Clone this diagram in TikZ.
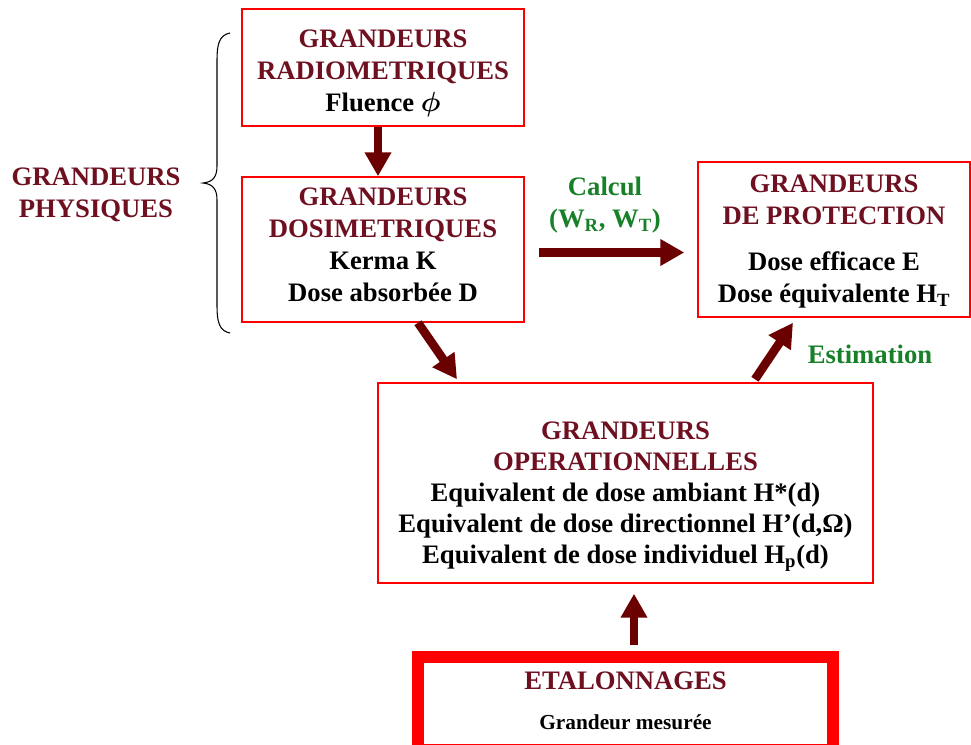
\documentclass[tikz,border=0pt]{standalone}
\usepackage{fontspec}
\setmainfont{Liberation Serif}
\usepackage{amsmath}
\usetikzlibrary{arrows.meta,calc}
\definecolor{titlered}{RGB}{110,16,32}
\definecolor{arrowred}{RGB}{106,0,0}
\definecolor{labelgreen}{RGB}{24,128,40}
\newcommand{\ttl}[1]{\textcolor{titlered}{#1}}
\tikzset{
  box/.style={draw=red, line width=1.1pt, inner sep=0pt},
  txt/.style={align=center, inner sep=0pt, font=\bfseries\fontsize{20}{24}\selectfont},
  bigarrow/.style={draw=arrowred, line width=6.5pt, -{Triangle[length=18pt,width=19pt]}},
}
\begin{document}
\begin{tikzpicture}[x=0.75pt,y=0.75pt,yscale=-1,xscale=1]
\useasboundingbox (0,0) rectangle (971,744);

%Shape: Rectangle [radiometriques]
\node[box, minimum width=211.5pt, minimum height=87.75pt] (radio) at (383,67.5) {};
%Shape: Rectangle [dosimetriques]
\node[box, minimum width=211.5pt, minimum height=108.75pt] (dosi) at (383,249.5) {};
%Shape: Rectangle [protection]
\node[box, minimum width=204pt, minimum height=116.25pt] (prot) at (834,239.5) {};
%Shape: Rectangle [operationnelles]
\node[box, minimum width=371.25pt, minimum height=150pt] (oper) at (625.5,483) {};
%Shape: Rectangle [etalonnages]
\node[box, line width=9pt, minimum width=311.25pt, minimum height=70pt] (etal) at (625.5,703.25) {};

% Text Node
\node[txt] (radiotxt) at ($(radio)+(0,6)$)
  {\ttl{GRANDEURS}\\ \ttl{RADIOMETRIQUES}\\ Fluence $\boldsymbol{\phi}$};
% Text Node
\node[txt] (dositxt) at ($(dosi)+(0,-4.5)$)
  {\ttl{GRANDEURS}\\ \ttl{DOSIMETRIQUES}\\ Kerma K\\ Dose absorbée D};
% Text Node
\node[txt] (prottxt) at ($(prot)+(0,2)$)
  {\ttl{GRANDEURS}\\ \ttl{DE PROTECTION}\\[10pt] Dose efficace E\\ Dose équivalente H\textsubscript{T}};
% Text Node
\node[txt, font=\bfseries\fontsize{20}{23.25}\selectfont] (opertxt) at ($(oper)+(0,14)$)
  {\ttl{GRANDEURS}\\ \ttl{OPERATIONNELLES}\\ Equivalent de dose ambiant H*(d)\\
   Equivalent de dose directionnel H’(d,Ω)\\ Equivalent de dose individuel H\textsubscript{p}(d)};
% Text Node
\node[txt] (etaltxt) at ($(etal)+(0,-2)$)
  {\ttl{ETALONNAGES}\\[6pt] {\fontsize{16}{19}\selectfont Grandeur mesurée}};

%Shape: Brace
\draw[line width=0.8pt] (230,33) .. controls (219,35) and (217,45) .. (217,60) -- (217,166)
  .. controls (217,178) and (212,182) .. (203,183) .. controls (212,184) and (217,188) .. (217,200)
  -- (217,306) .. controls (217,321) and (219,331) .. (230,333);

% Text Node
\node[txt, text=titlered] (phys) at (96,195) {GRANDEURS\\ PHYSIQUES};
% Text Node
\node[txt, text=labelgreen] (calcul) at (605,205) {Calcul\\ (W\textsubscript{R}, W\textsubscript{T})};
% Text Node
\node[txt, text=labelgreen] (estim) at (870,354) {Estimation};

%Straight Lines [arrows]
\coordinate (a1) at (378,0);
\draw[bigarrow] (radio.south -| a1) -- (dosi.north -| a1);
\draw[bigarrow] ($(dosi.south)+(35,0)$) -- ($(oper.north)+(-168.5,-3)$);
\draw[bigarrow] ($(dosi.east)+(14,3)$) -- ($(prot.west |- dosi.east)+(-13,3)$);
\draw[bigarrow] ($(oper.north)+(129.5,-3)$) -- ($(prot.south)+(-41,5)$);
\coordinate (a5) at (634,0);
\draw[bigarrow] ($(etal.north -| a5)+(0,-6)$) -- ($(oper.south -| a5)+(0,10)$);

\end{tikzpicture}
\end{document}
